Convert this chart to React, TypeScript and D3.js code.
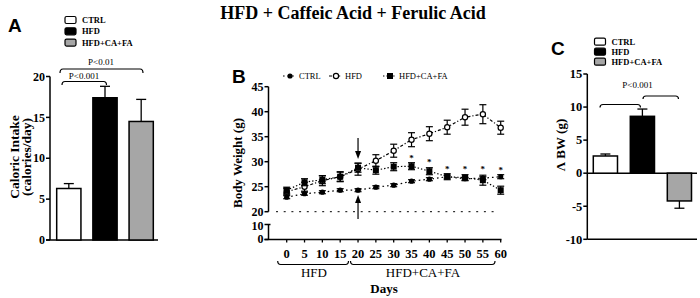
import React from "react";
import * as d3 from "d3";

// ---- Data ----
const groups = ["CTRL", "HFD", "HFD+CA+FA"];
const groupFill = ["#ffffff", "#000000", "#a6a6a6"];

// Panel A: caloric intake
const intakeMean = [6.3, 17.4, 14.5];
const intakeErr = [0.6, 1.4, 2.7];
const intakeTicks = [0, 5, 10, 15, 20];

// Panel B: body weight over days
const days = [0, 5, 10, 15, 20, 25, 30, 35, 40, 45, 50, 55, 60];
const ctrlBW = [22.9, 23.6, 23.9, 24.3, 24.3, 24.9, 25.3, 26.1, 26.5, 27.0, 26.6, 26.7, 27.0];
const ctrlErr = [0.3, 0.3, 0.3, 0.3, 0.3, 0.3, 0.3, 0.3, 0.3, 0.3, 0.3, 0.3, 0.4];
const hfdBW = [24.0, 25.0, 26.2, 27.0, 28.5, 30.2, 32.2, 34.4, 35.6, 36.9, 38.9, 39.5, 36.8];
const hfdErr = [0.6, 0.9, 1.0, 1.0, 1.2, 1.2, 1.3, 1.4, 1.4, 1.4, 1.6, 1.9, 1.3];
const hcfBW = [24.3, 25.9, 26.4, 27.0, 28.8, 28.3, 29.0, 29.1, 28.1, 27.0, 26.8, 26.3, 24.3];
const hcfErr = [0.6, 0.7, 0.8, 0.9, 0.9, 0.8, 0.8, 0.7, 0.7, 0.6, 0.6, 1.0, 0.8];
const starDays = [35, 40, 45, 50, 55, 60];
const starLevel = [30.9, 30.1, 28.8, 28.8, 28.8, 28.6];
const bwTicksUpper = [20, 25, 30, 35, 40, 45];
const bwTicksLower = [0, 10];

// Panel C: delta body weight
const dbwMean = [2.6, 8.6, -4.2];
const dbwErr = [0.3, 1.1, 1.1];
const dbwTicks = [-10, -5, 0, 5, 10, 15];

const SERIF = "'Liberation Serif', 'Times New Roman', serif";
const SANS = "'Liberation Sans', Arial, sans-serif";

function Legend({ x, y, dy }: { x: number; y: number; dy: number }) {
  return (
    <g>
      {groups.map((g, i) => (
        <g key={g}>
          <rect x={x} y={y + i * dy - 3.5} width={11} height={7} rx={1.5} fill={groupFill[i]} stroke="#000" strokeWidth={1.2} />
          <text x={x + 17} y={y + i * dy + 3} fontFamily={SERIF} fontSize={8.5} fontWeight="bold">{g}</text>
        </g>
      ))}
    </g>
  );
}

function Bracket({ x1, x2, y, h, dir }: { x1: number; x2: number; y: number; h: number; dir: number }) {
  return (
    <path
      d={`M${x1},${y + dir * h} Q${x1},${y} ${x1 + 3},${y} L${x2 - 3},${y} Q${x2},${y} ${x2},${y + dir * h}`}
      fill="none"
      stroke="#000"
      strokeWidth={1.2}
    />
  );
}

function PanelA() {
  const y = d3.scaleLinear().domain([0, 20]).range([240, 76.5]);
  const x = d3.scaleBand().domain(groups).range([50, 160]).paddingInner(0.33).paddingOuter(0.185);
  return (
    <g>
      <text x={8} y={32} fontFamily={SANS} fontSize={19} fontWeight="bold">A</text>
      <Legend x={65} y={20} dy={11.3} />
      {/* axis */}
      <line x1={50} x2={50} y1={y(20)} y2={y(0)} stroke="#000" strokeWidth={1.5} />
      <line x1={46} x2={158} y1={y(0)} y2={y(0)} stroke="#000" strokeWidth={1.5} />
      {intakeTicks.map((t) => (
        <g key={t}>
          <line x1={46} x2={50} y1={y(t)} y2={y(t)} stroke="#000" strokeWidth={1.5} />
          <text x={45} y={y(t) + 4.2} textAnchor="end" fontFamily={SERIF} fontSize={12} fontWeight="bold">{t}</text>
        </g>
      ))}
      <text transform={`translate(19,157) rotate(-90)`} textAnchor="middle" fontFamily={SERIF} fontSize={13.5} fontWeight="bold">
        Caloric Intake
      </text>
      <text transform={`translate(30.5,157) rotate(-90)`} textAnchor="middle" fontFamily={SERIF} fontSize={13.5} fontWeight="bold">
        (calories/day)
      </text>
      {groups.map((g, i) => {
        const bx = x(g)!;
        const bw = x.bandwidth();
        const cx = bx + bw / 2;
        return (
          <g key={g}>
            <line x1={cx} x2={cx} y1={y(intakeMean[i])} y2={y(intakeMean[i] + intakeErr[i])} stroke="#000" strokeWidth={1.3} />
            <line x1={cx - 5} x2={cx + 5} y1={y(intakeMean[i] + intakeErr[i])} y2={y(intakeMean[i] + intakeErr[i])} stroke="#000" strokeWidth={1.3} />
            <rect x={bx} y={y(intakeMean[i])} width={bw} height={y(0) - y(intakeMean[i])} fill={groupFill[i]} stroke="#000" strokeWidth={1.5} />
          </g>
        );
      })}
      <Bracket x1={62} x2={106.5} y={81.5} h={3.5} dir={1} />
      <text x={84} y={79} textAnchor="middle" fontFamily={SERIF} fontSize={9} fill="#000">P&lt;0.001</text>
      <Bracket x1={60} x2={143} y={69} h={4} dir={1} />
      <text x={101} y={65} textAnchor="middle" fontFamily={SERIF} fontSize={9} fill="#000">P&lt;0.01</text>
    </g>
  );
}

function PanelB() {
  const x = d3.scaleLinear().domain([0, 60]).range([286.7, 500.7]);
  const yU = d3.scaleLinear().domain([20, 45]).range([211.7, 86.7]);
  const yL = d3.scaleLinear().domain([0, 10]).range([239.5, 224.5]);
  const axisX = 268.5;

  const line = d3
    .line<number>()
    .x((_, i) => x(days[i]))
    .y((v) => yU(v));

  const series = [
    { vals: ctrlBW, err: ctrlErr, dash: "1.6 3", kind: "fc" },
    { vals: hfdBW, err: hfdErr, dash: "3 2 1.2 2", kind: "oc" },
    { vals: hcfBW, err: hcfErr, dash: "1.4 2", kind: "sq" },
  ];

  const marker = (kind: string, cx: number, cy: number, key: string | number) => {
    if (kind === "fc") return <circle key={key} cx={cx} cy={cy} r={2.6} fill="#000" />;
    if (kind === "oc") return <circle key={key} cx={cx} cy={cy} r={2.6} fill="#fff" stroke="#000" strokeWidth={1.2} />;
    return <rect key={key} x={cx - 3} y={cy - 3} width={6} height={6} fill="#000" />;
  };

  return (
    <g>
      <text x={232} y={83} fontFamily={SANS} fontSize={19} fontWeight="bold">B</text>
      {/* legend */}
      {[
        { k: "fc", x0: 283, label: "CTRL", dash: "1.6 3" },
        { k: "oc", x0: 329, label: "HFD", dash: "3 2 1.2 2" },
        { k: "sq", x0: 383, label: "HFD+CA+FA", dash: "1.4 2" },
      ].map((l, i) => (
        <g key={i}>
          <line x1={l.x0} x2={l.x0 + 13} y1={76} y2={76} stroke="#000" strokeWidth={1.1} strokeDasharray={l.dash} />
          {marker(l.k, l.x0 + 7, 76, "m" + i)}
          <text x={l.x0 + 16} y={79} fontFamily={SERIF} fontSize={8.5}>{l.label}</text>
        </g>
      ))}
      {/* dotted 20 reference line */}
      <line x1={276} x2={499} y1={yU(20)} y2={yU(20)} stroke="#000" strokeWidth={1} strokeDasharray="2 5.7" />
      {/* y axis upper */}
      <line x1={axisX} x2={axisX} y1={yU(45)} y2={yU(20)} stroke="#000" strokeWidth={1.5} />
      {bwTicksUpper.map((t) => (
        <g key={t}>
          <line x1={axisX - 4} x2={axisX} y1={yU(t)} y2={yU(t)} stroke="#000" strokeWidth={1.5} />
          <text x={axisX - 5} y={yU(t) + 4} textAnchor="end" fontFamily={SERIF} fontSize={12} fontWeight="bold">{t}</text>
        </g>
      ))}
      {/* y axis lower */}
      <line x1={axisX} x2={axisX} y1={yL(10)} y2={yL(0)} stroke="#000" strokeWidth={1.5} />
      {bwTicksLower.map((t) => (
        <g key={t}>
          <line x1={axisX - 4} x2={axisX + (t === 10 ? 2 : 0)} y1={yL(t)} y2={yL(t)} stroke="#000" strokeWidth={1.5} />
          <text x={axisX - 5} y={yL(t) + (t === 10 ? 5 : 3.5)} textAnchor="end" fontFamily={SERIF} fontSize={12} fontWeight="bold">{t}</text>
        </g>
      ))}
      {/* x axis */}
      <line x1={axisX - 4} x2={501.5} y1={yL(0)} y2={yL(0)} stroke="#000" strokeWidth={1.5} />
      {days.map((d) => (
        <g key={d}>
          <line x1={x(d)} x2={x(d)} y1={yL(0)} y2={yL(0) + 3} stroke="#000" strokeWidth={1.3} />
          <text x={x(d)} y={257.5} textAnchor="middle" fontFamily={SERIF} fontSize={12.5} fontWeight="bold">{d}</text>
        </g>
      ))}
      {/* phase brackets */}
      <Bracket x1={277.7} x2={348.5} y={264.5} h={-3.5} dir={1} />
      <Bracket x1={350.5} x2={495} y={264.5} h={-3.5} dir={1} />
      <text x={314} y={277} textAnchor="middle" fontFamily={SERIF} fontSize={13}>HFD</text>
      <text x={423} y={277} textAnchor="middle" fontFamily={SERIF} fontSize={13}>HFD+CA+FA</text>
      <text x={384} y={293} textAnchor="middle" fontFamily={SERIF} fontSize={13} fontWeight="bold">Days</text>
      <text transform={`translate(242,163) rotate(-90)`} textAnchor="middle" fontFamily={SERIF} fontSize={13} fontWeight="bold">
        Body Weight (g)
      </text>
      {/* arrows at day 20 */}
      <line x1={x(20)} x2={x(20)} y1={138} y2={154} stroke="#000" strokeWidth={1.2} />
      <path d={`M${x(20) - 3},${151} L${x(20) + 3},${151} L${x(20)},${159} Z`} fill="#000" />
      <line x1={x(20)} x2={x(20)} y1={200} y2={219} stroke="#000" strokeWidth={1.2} />
      <path d={`M${x(20) - 3},${203} L${x(20) + 3},${203} L${x(20)},${195} Z`} fill="#000" />
      {/* series */}
      {series.map((s, si) => (
        <g key={si}>
          <path d={line(s.vals) || ""} fill="none" stroke="#000" strokeWidth={1.2} strokeDasharray={s.dash} />
          {s.vals.map((v, i) => {
            const cx = x(days[i]);
            const t = yU(v + s.err[i]);
            const b = yU(v - s.err[i]);
            return (
              <g key={i}>
                <line x1={cx} x2={cx} y1={t} y2={b} stroke="#000" strokeWidth={1.2} />
                <line x1={cx - 3.5} x2={cx + 3.5} y1={t} y2={t} stroke="#000" strokeWidth={1.2} />
                <line x1={cx - 3.5} x2={cx + 3.5} y1={b} y2={b} stroke="#000" strokeWidth={1.2} />
                {marker(s.kind, cx, yU(v), "k")}
              </g>
            );
          })}
        </g>
      ))}
      {starDays.map((d, i) => (
        <text key={d} x={x(d)} y={yU(starLevel[i]) + 4} textAnchor="middle" fontFamily={SERIF} fontSize={9} fontWeight="bold">*</text>
      ))}
    </g>
  );
}

function PanelC() {
  const y = d3.scaleLinear().domain([-10, 15]).range([239.3, 74]);
  const x = d3.scaleBand().domain(groups).range([587.3, 697.5]).paddingInner(0.346).paddingOuter(0.162);
  const axisX = 587.3;
  return (
    <g>
      <text x={551} y={55} fontFamily={SANS} fontSize={19} fontWeight="bold">C</text>
      <Legend x={594.5} y={41.7} dy={10} />
      <line x1={axisX} x2={axisX} y1={y(15)} y2={y(-10)} stroke="#000" strokeWidth={1.5} />
      <line x1={axisX} x2={697} y1={y(0)} y2={y(0)} stroke="#000" strokeWidth={1.5} />
      <line x1={axisX} x2={697} y1={y(-10)} y2={y(-10)} stroke="#000" strokeWidth={1.5} />
      {dbwTicks.map((t) => (
        <g key={t}>
          <line x1={axisX - 4} x2={axisX} y1={y(t)} y2={y(t)} stroke="#000" strokeWidth={1.5} />
          <text x={axisX - 5} y={y(t) + 4.3} textAnchor="end" fontFamily={SERIF} fontSize={12.5} fontWeight="bold">{t}</text>
        </g>
      ))}
      <text transform={`translate(565,145) rotate(-90)`} textAnchor="middle" fontFamily={SERIF} fontSize={13} fontWeight="bold">
        Λ BW (g)
      </text>
      {groups.map((g, i) => {
        const bx = x(g)!;
        const bw = x.bandwidth();
        const cx = bx + bw / 2;
        const v = dbwMean[i];
        const e = v >= 0 ? v + dbwErr[i] : v - dbwErr[i];
        return (
          <g key={g}>
            <line x1={cx} x2={cx} y1={y(v)} y2={y(e)} stroke="#000" strokeWidth={1.3} />
            <line x1={cx - 5} x2={cx + 5} y1={y(e)} y2={y(e)} stroke="#000" strokeWidth={1.3} />
            <rect x={bx} y={Math.min(y(v), y(0))} width={bw} height={Math.abs(y(0) - y(v))} fill={groupFill[i]} stroke="#000" strokeWidth={1.5} />
          </g>
        );
      })}
      <Bracket x1={600} x2={640.5} y={104.5} h={3} dir={1} />
      <Bracket x1={643} x2={678.5} y={96} h={3} dir={1} />
      <text x={637.5} y={88} textAnchor="middle" fontFamily={SERIF} fontSize={9}>P&lt;0.001</text>
    </g>
  );
}

export default function App() {
  return (
    <div style={{ position: "absolute", left: 0, top: 0 }}>
      <svg width={700} height={298} viewBox="0 0 700 298" style={{ display: "block", background: "#fff" }}>
        <rect x={0} y={0} width={700} height={298} fill="#fff" />
        <text x={353} y={19} textAnchor="middle" fontFamily={SERIF} fontSize={18} fontWeight="bold">
          HFD + Caffeic Acid + Ferulic Acid
        </text>
        <PanelA />
        <PanelB />
        <PanelC />
      </svg>
    </div>
  );
}
